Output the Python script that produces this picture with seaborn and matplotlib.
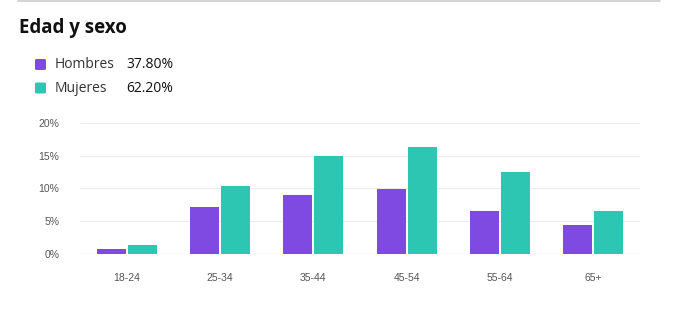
import matplotlib
matplotlib.use("Agg")
import matplotlib.pyplot as plt
import seaborn as sns
import pandas as pd
from matplotlib.patches import FancyBboxPatch
from matplotlib.lines import Line2D

categories = ["18-24", "25-34", "35-44", "45-54", "55-64", "65+"]
hombres = [0.8, 7.1, 9.0, 9.9, 6.6, 4.4]
mujeres = [1.4, 10.4, 15.0, 16.3, 12.5, 6.6]
series_names = ["Hombres", "Mujeres"]
series_totals = ["37.80%", "62.20%"]
yticks = [0, 5, 10, 15, 20]
ytick_labels = ["0%", "5%", "10%", "15%", "20%"]
colors = ["#7E4AE2", "#2DC6B3"]

df = pd.DataFrame({
    "edad": categories * 2,
    "sexo": [series_names[0]] * len(categories) + [series_names[1]] * len(categories),
    "valor": hombres + mujeres,
})

sns.set_theme(style="white")
plt.rcParams["font.family"] = ["Open Sans", "DejaVu Sans"]

fig = plt.figure(figsize=(6.77, 3.15), dpi=100)
ax = fig.add_axes([80 / 677, 1 - 254 / 315, 560 / 677, (254 - 122.7) / 315])

sns.barplot(data=df, x="edad", y="valor", hue="sexo", palette=colors,
            width=0.66, gap=0.06, ax=ax, legend=False, saturation=1,
            edgecolor="none", zorder=3)

ax.set_xlim(-0.5, len(categories) - 0.5)
ax.set_ylim(0, 20)
ax.set_yticks(yticks)
ax.set_yticklabels(ytick_labels)
ax.set_xlabel("")
ax.set_ylabel("")
for s in ax.spines.values():
    s.set_visible(False)
ax.grid(axis="y", color="#ececec", linewidth=0.8, zorder=0)
ax.axhline(0, color="#e2e2e2", linewidth=0.9, zorder=2)
ax.tick_params(axis="both", length=0, labelsize=7.5, labelcolor="#555555")
ax.tick_params(axis="y", pad=15)
ax.tick_params(axis="x", pad=14)
for lab in ax.get_xticklabels() + ax.get_yticklabels():
    lab.set_family(["Liberation Sans", "DejaVu Sans"])

# top separator line
fig.add_artist(Line2D([18 / 677, 660 / 677], [1 - 1 / 315, 1 - 1 / 315],
                      color="#cccccc", linewidth=1.2))

# title
fig.text(19 / 677, 1 - 27.5 / 315, "Edad y sexo", fontsize=13.5, fontweight="bold",
         color="#111111", va="center", ha="left")

# legend
for i, (name, tot, c) in enumerate(zip(series_names, series_totals, colors)):
    yc = 1 - (64.5 + 23.5 * i) / 315
    fig.add_artist(FancyBboxPatch((35 / 677, yc - 5.5 / 315), 11 / 677, 11 / 315,
                                  boxstyle="round,pad=0,rounding_size=0.003",
                                  facecolor=c, edgecolor="none",
                                  transform=fig.transFigure))
    fig.text(55 / 677, yc, name, fontsize=10, color="#333333", va="center", ha="left")
    fig.text(126 / 677, yc, tot, fontsize=10, color="#111111", va="center", ha="left")

fig.savefig("out.png", dpi=100, facecolor="white")
